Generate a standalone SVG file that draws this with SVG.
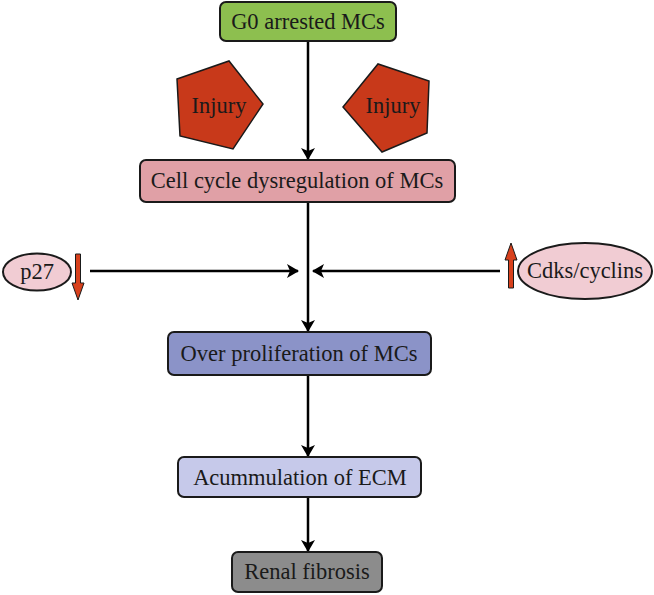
<svg xmlns="http://www.w3.org/2000/svg" width="654" height="595" viewBox="0 0 654 595">
<style>
.box{stroke:#1a1a1a;stroke-width:2}
.t{font-family:"Liberation Serif","Times New Roman","DejaVu Serif",serif;font-size:22.5px;fill:#1a1a1a;text-anchor:middle}
.ln{stroke:#000;stroke-width:2.5;fill:none;marker-end:url(#ah)}
.pent{fill:#c8391a;stroke:#1a1a1a;stroke-width:1.5}
.ell{fill:#f1ccd3;stroke:#1a1a1a;stroke-width:2}
.red{fill:#d8401c;stroke:#1a1a1a;stroke-width:1}
</style>
<defs>
<marker id="ah" markerWidth="12" markerHeight="14" refX="11" refY="7" orient="auto" markerUnits="userSpaceOnUse">
<path d="M0,0 L12,7 L0,14 L3,7 Z" fill="#000"/>
</marker>
</defs>
<g id="connectors">
<line class="ln" x1="308" y1="41" x2="308" y2="159"/>
<line class="ln" x1="308" y1="202" x2="308" y2="331"/>
<line class="ln" x1="90" y1="271" x2="298" y2="271"/>
<line class="ln" x1="500" y1="271" x2="313" y2="271"/>
<line class="ln" x1="308" y1="375" x2="308" y2="456"/>
<line class="ln" x1="308" y1="497" x2="308" y2="551"/>
</g>
<g id="g0"><rect class="box" x="220" y="2" width="176" height="39" rx="6" fill="#8dbf4f"/><text class="t" x="308" y="29">G0 arrested MCs</text></g>
<g id="injury1"><polygon class="pent" points="177,79 229,61 263,104 233,149 180,136"/><text class="t" x="219" y="113">Injury</text></g>
<g id="injury2"><polygon class="pent" points="343,107 378,64 429,81 427,133 382,152"/><text class="t" x="393" y="113">Injury</text></g>
<g id="cellcycle"><rect class="box" x="140" y="160" width="315" height="42" rx="6" fill="#e0a0a6"/><text class="t" x="297" y="188">Cell cycle dysregulation of MCs</text></g>
<g id="p27"><ellipse class="ell" cx="37" cy="272" rx="34" ry="18.5"/><text class="t" x="37" y="279">p27</text>
<path class="red" d="M75.5,254 L80.5,254 L80.5,283 L84,283 L78,300 L72,283 L75.5,283 Z"/></g>
<g id="cdks"><ellipse class="ell" cx="585" cy="271" rx="67" ry="28"/><text class="t" x="585" y="278">Cdks/cyclins</text>
<path class="red" d="M508.5,288 L513.5,288 L513.5,260 L517,260 L511,243 L505,260 L508.5,260 Z"/></g>
<g id="overprolif"><rect class="box" x="168" y="332" width="263" height="43" rx="6" fill="#8b93c8"/><text class="t" x="299" y="361">Over proliferation of MCs</text></g>
<g id="ecm"><rect class="box" x="178" y="457" width="243" height="40" rx="6" fill="#c6c9ea"/><text class="t" x="300" y="485">Acummulation of ECM</text></g>
<g id="renal"><rect class="box" x="232" y="552" width="150" height="40" rx="6" fill="#8c8c8c"/><text class="t" x="307" y="579">Renal fibrosis</text></g>
</svg>
